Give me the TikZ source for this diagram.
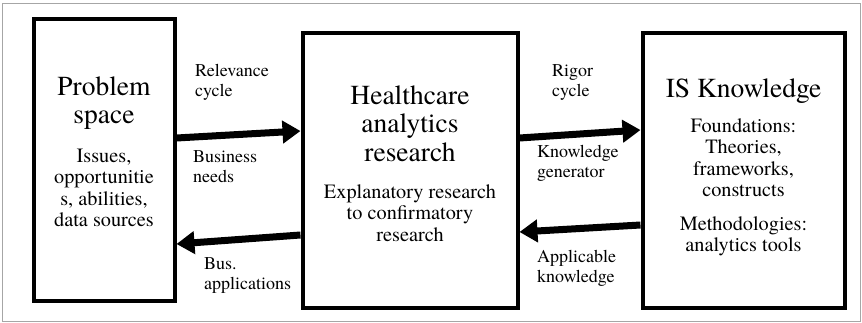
\documentclass[tikz,border=0pt]{standalone}
\usepackage{fontspec}
\setmainfont{texgyretermes}[Extension=.otf, UprightFont=*-regular]
\usetikzlibrary{arrows.meta}

\tikzset{
  blk/.style={draw, line width=4pt, inner sep=0pt},
  ttl/.style={font=\fontsize{27.5}{28.5}\selectfont, align=center, inner sep=0pt, anchor=north},
  txt/.style={font=\fontsize{20.3}{21.5}\selectfont, align=center, inner sep=0pt, anchor=north},
  lbl/.style={font=\fontsize{18}{20}\selectfont, align=left, inner sep=0pt, anchor=north west},
  cyc/.style={line width=7pt, -{Triangle[length=18pt,width=22pt]}},
}

\begin{document}
\begin{tikzpicture}[x=1pt, y=-1pt]
    \useasboundingbox (0,0) rectangle (862,323);
    \draw[gray!70, line width=1pt] (2,4) rectangle (860,321);

    \node[blk, minimum width=141pt, minimum height=282pt] (prob) at (104,160) {};
    \node[blk, minimum width=215pt, minimum height=274pt] (hcar) at (410,170.5) {};
    \node[blk, minimum width=202pt, minimum height=274pt] (know) at (743.5,170.5) {};

    \node[ttl] (probT) at (104,76.2) {Problem\\space};
    \node[txt] (probB) at (104,148.6) {Issues,\\opportunitie\\s, abilities,\\data sources};
    \node[ttl] (hcarT) at (410,85.2) {Healthcare\\analytics\\research};
    \node[txt] (hcarB) at (410,184.1) {Explanatory research\\to confirmatory\\research};
    \node[ttl] (knowT) at (743.5,78.2) {IS Knowledge};
    \node[txt] (knowF) at (743.5,118.1) {Foundations:\\Theories,\\frameworks,\\constructs};
    \node[txt] (knowM) at (743.5,216.1) {Methodologies:\\analytics tools};

    \draw[cyc] ([yshift=22pt]prob.east) -- ([yshift=39.5pt]hcar.west);
    \draw[cyc] ([yshift=-64.5pt]hcar.west) -- ([yshift=-84pt]prob.east);
    \draw[cyc] ([yshift=32.5pt]hcar.east) -- ([yshift=40.5pt]know.west);
    \draw[cyc] ([yshift=-54.5pt]know.west) -- ([yshift=-61.5pt]hcar.east);

    \node[lbl] (relv) at (195,63.7) {Relevance\\cycle};
    \node[lbl] (need) at (193,150.7) {Business\\needs};
    \node[lbl] (appl) at (204,257) {Bus.\\applications};
    \node[lbl] (rigr) at (552,64.7) {Rigor\\cycle};
    \node[lbl] (kgen) at (537,144.7) {Knowledge\\generator};
    \node[lbl] (akno) at (537,249.7) {Applicable\\knowledge};
\end{tikzpicture}
\end{document}
